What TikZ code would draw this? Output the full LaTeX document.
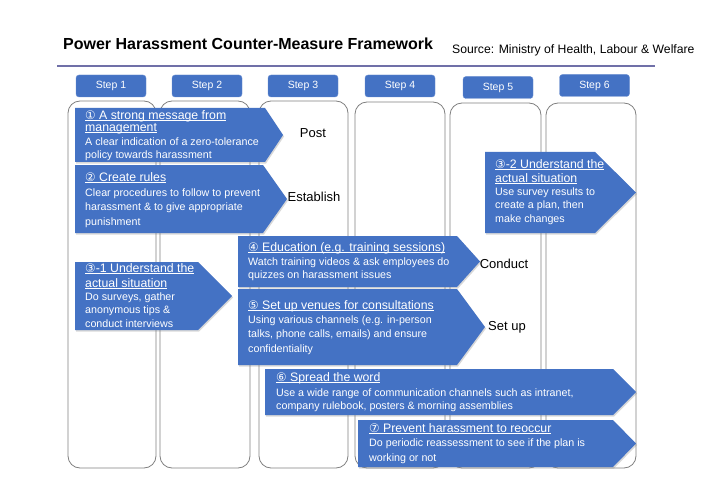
\documentclass[tikz,border=0pt]{standalone}
\usepackage{fontspec}
\setmainfont{Liberation Sans}
\newfontfamily\dejavu{DejaVu Sans}
\usetikzlibrary{shadows}
\definecolor{arrblue}{RGB}{68,114,196}
\definecolor{colgray}{RGB}{128,128,128}
\definecolor{rulecol}{RGB}{112,112,168}
\newcommand\cnum[1]{{\dejavu\fontsize{11.8}{11.8}\selectfont #1}}
\newcommand\ulx[1]{{\setbox0\hbox{#1}\rlap{\rule[-1.8pt]{\wd0}{0.7pt}}\box0}}
\newcommand\hs{\rule{0pt}{10pt}}
\newcommand\bs{\rule{0pt}{8pt}}
\newcommand\arrowshape[5]{% left, top, bodyright, tip, bottom
  \path[arrfill] (#1,#2) -- (#3,#2) -- (#4,{(#2+#5)/2}) -- (#3,#5) -- (#1,#5) -- cycle;}
\tikzset{
  colbox/.style={draw=colgray, line width=0.8pt, rounded corners=12pt},
  stepbox/.style={fill=arrblue, draw=arrblue!80!white, rounded corners=3pt, text=white,
    font=\fontsize{10.5}{12}\selectfont, minimum width=70pt, minimum height=22pt, inner sep=0pt},
  arrfill/.style={fill=arrblue, drop shadow={shadow xshift=1pt, shadow yshift=-1.5pt, opacity=0.3}},
  head/.style={anchor=north west, inner sep=0pt, text=white, align=left, font=\fontsize{12.3}{#1}\selectfont},
  head/.default=14,
  body/.style={anchor=north west, inner sep=0pt, text=white, align=left, font=\fontsize{10.7}{#1}\selectfont},
  body/.default=13,
  lbl/.style={font=\fontsize{13}{15}\selectfont, text=black, inner sep=0pt}
}
\begin{document}
\begin{tikzpicture}[x=1pt,y=-1pt]
\useasboundingbox[fill=white] (0,0) rectangle (724,503);
% title
\node[anchor=base west, inner sep=0pt, font=\fontsize{16}{18}\selectfont\bfseries] (title) at (63,49.5) {Power Harassment Counter-Measure Framework};
\node[anchor=base west, inner sep=0pt, font=\fontsize{12.2}{14}\selectfont] (source) at (452,54) {Source: Ministry of Health, Labour \& Welfare};
\draw[rulecol, line width=1.6pt] (57,66) -- (655,66);
% steps
\node[stepbox] (s1) at (111,86) {Step 1};
\node[stepbox] (s2) at (207,86) {Step 2};
\node[stepbox] (s3) at (303,86) {Step 3};
\node[stepbox] (s4) at (400,86) {Step 4};
\node[stepbox] (s5) at (498,87.5) {Step 5};
\node[stepbox] (s6) at (594.5,85.5) {Step 6};
% columns
\draw[colbox] (68,101) rectangle (156,468);
\draw[colbox] (160,101) rectangle (250,468);
\draw[colbox] (259,101) rectangle (348,468);
\draw[colbox] (355,102) rectangle (445,468);
\draw[colbox] (450,103) rectangle (541,468);
\draw[colbox] (546,103) rectangle (636,468);
% arrow 1
\arrowshape{75}{108}{265}{283}{162}
\node[head=12] (h1) at (85,109) {\hs\ulx{\cnum{①} A strong message from}\\\ulx{management}};
\node[body=13] (b1) at (85,137) {\bs A clear indication of a zero-tolerance\\policy towards harassment};
\node[lbl] (post) at (313,133) {Post};
% arrow 2
\arrowshape{75}{165}{263}{287}{233}
\node[head] (h2) at (85,171) {\hs\ulx{\cnum{②} Create rules}};
\node[body=14.5] (b2) at (85,188) {\bs Clear procedures to follow to prevent\\harassment \& to give appropriate\\punishment};
\node[lbl] (establish) at (314,197) {Establish};
% arrow 3-1
\arrowshape{75}{262}{198}{232}{330}
\node[head=15] (h31) at (85,262) {\hs\ulx{\cnum{③}-1 Understand the}\\\ulx{actual situation}};
\node[body=13.5] (b31) at (85,292) {\bs Do surveys, gather\\anonymous tips \&\\conduct interviews};
% arrow 3-2
\arrowshape{485}{152}{595}{636}{233}
\node[head=14] (h32) at (495,158) {\hs\ulx{\cnum{③}-2 Understand the}\\\ulx{actual situation}};
\node[body=13.5] (b32) at (495,187) {\bs Use survey results to\\create a plan, then\\make changes};
% arrow 4
\arrowshape{238}{236}{457}{480}{287}
\node[head] (h4) at (248,241) {\hs\ulx{\cnum{④} Education (e.g. training sessions)}};
\node[body=13] (b4) at (248,257) {\bs Watch training videos \& ask employees do\\quizzes on harassment issues};
\node[lbl] (conduct) at (504,264) {Conduct};
% arrow 5
\arrowshape{238}{289}{457}{485}{365}
\node[head] (h5) at (248,299) {\hs\ulx{\cnum{⑤} Set up venues for consultations}};
\node[body=14.5] (b5) at (248,315) {\bs Using various channels (e.g. in-person\\talks, phone calls, emails) and ensure\\confidentiality};
\node[lbl] (setup) at (507,327) {Set up};
% arrow 6
\arrowshape{265}{369}{613}{636}{415}
\node[head] (h6) at (276,371) {\hs\ulx{\cnum{⑥} Spread the word}};
\node[body=13] (b6) at (276,388) {\bs Use a wide range of communication channels such as intranet,\\company rulebook, posters \& morning assemblies};
% arrow 7
\arrowshape{358}{420}{613}{636}{467}
\node[head] (h7) at (369,422) {\hs\ulx{\cnum{⑦} Prevent harassment to reoccur}};
\node[body=15] (b7) at (369,438) {\bs Do periodic reassessment to see if the plan is\\working or not};
\end{tikzpicture}
\end{document}
